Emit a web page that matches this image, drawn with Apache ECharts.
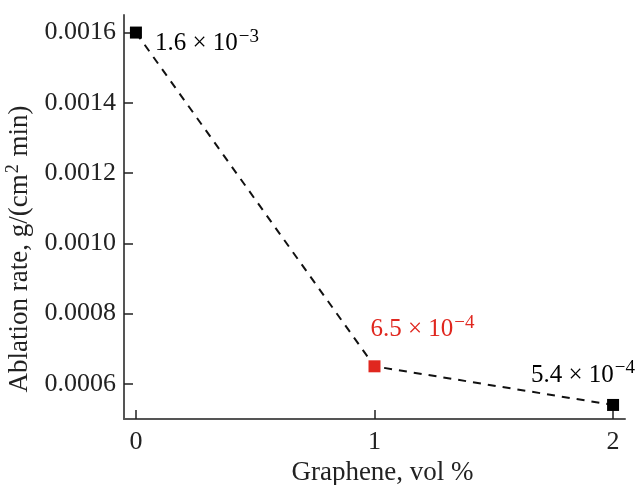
<!DOCTYPE html>
<html>
<head>
<meta charset="utf-8">
<script src="https://cdn.jsdelivr.net/npm/echarts@6/dist/echarts.min.js"></script>
<style>
html, body { margin: 0; padding: 0; background: #fff; }
#chart { width: 636px; height: 485px; }
</style>
</head>
<body>
<div id="chart"></div>
<script>
// Graphene content (vol %) and ablation rate, g/(cm^2 min)
const grapheneVol = [0, 1, 2];
const ablationRate = [0.0016, 0.00065, 0.00054];
const pointLabels = [
  ['1.6 \u00d7 10', '\u22123'],
  ['6.5 \u00d7 10', '\u22124'],
  ['5.4 \u00d7 10', '\u22124']
];
const pointColors = ['#000000', '#e0271f', '#000000'];
const yTicks = [0.0006, 0.0008, 0.0010, 0.0012, 0.0014, 0.0016];
const xTicks = [0, 1, 2];

const serif = '"Liberation Serif", "DejaVu Serif", serif';
const axisColor = '#555555';
const textColor = '#222222';

// label placement around each marker: [align, dx, dy]
const labelPlace = [
  ['left', 19, 11],
  ['left', -4, -37],
  ['right', 22, -30]
];

function richFor(color) {
  return {
    m: { fontFamily: serif, fontSize: 25, color: color },
    s: { fontFamily: serif, fontSize: 19, color: color, padding: [0, 0, 13, 1] }
  };
}

const seriesData = grapheneVol.map((x, i) => ({
  value: [x, ablationRate[i]],
  itemStyle: { color: pointColors[i] },
  label: {
    show: true,
    position: 'inside',
    align: labelPlace[i][0],
    verticalAlign: 'middle',
    offset: [labelPlace[i][1], labelPlace[i][2]],
    formatter: '{m|' + pointLabels[i][0] + '}{s|' + pointLabels[i][1] + '}',
    rich: richFor(pointColors[i])
  }
}));

const chart = echarts.init(document.getElementById('chart'), null, { renderer: 'canvas' });
chart.setOption({
  animation: false,
  backgroundColor: '#ffffff',
  grid: { left: 124, right: 11, top: 15, bottom: 66, containLabel: false, outerBoundsMode: 'none' },
  xAxis: {
    type: 'value',
    min: -0.05,
    max: 2.05,
    name: 'Graphene, vol %',
    nameLocation: 'middle',
    nameGap: 40,
    nameTextStyle: { fontFamily: serif, fontSize: 27, color: textColor, padding: [0, 0, 0, 16] },
    axisLine: { show: true, onZero: false, lineStyle: { color: axisColor, width: 2 } },
    axisTick: { show: true, inside: true, length: 9, customValues: xTicks, lineStyle: { color: textColor, width: 1.5 } },
    axisLabel: { customValues: xTicks, fontFamily: serif, fontSize: 26, color: textColor, margin: 10 },
    splitLine: { show: false }
  },
  yAxis: {
    type: 'value',
    min: 0.0005,
    max: 0.00165,
    name: '{a|Ablation rate, g/(cm}{b|2}{a| min)}',
    nameLocation: 'middle',
    nameGap: 70,
    nameRotate: 90,
    nameTextStyle: {
      padding: [0, 64, 0, 0],
      rich: {
        a: { fontFamily: serif, fontSize: 27, color: textColor },
        b: { fontFamily: serif, fontSize: 18, color: textColor, padding: [0, 1, 14, 1] }
      }
    },
    axisLine: { show: true, onZero: false, lineStyle: { color: axisColor, width: 2 } },
    axisTick: { show: true, inside: true, length: 9, customValues: yTicks, lineStyle: { color: textColor, width: 1.5 } },
    axisLabel: {
      customValues: yTicks,
      formatter: v => v.toFixed(4),
      fontFamily: serif, fontSize: 26, color: textColor, margin: 8
    },
    splitLine: { show: false }
  },
  series: [{
    type: 'line',
    data: seriesData,
    symbol: 'rect',
    symbolSize: 12,
    lineStyle: { color: '#111', width: 2, type: [8, 7] },
    z: 3
  }]
});
</script>
</body>
</html>
